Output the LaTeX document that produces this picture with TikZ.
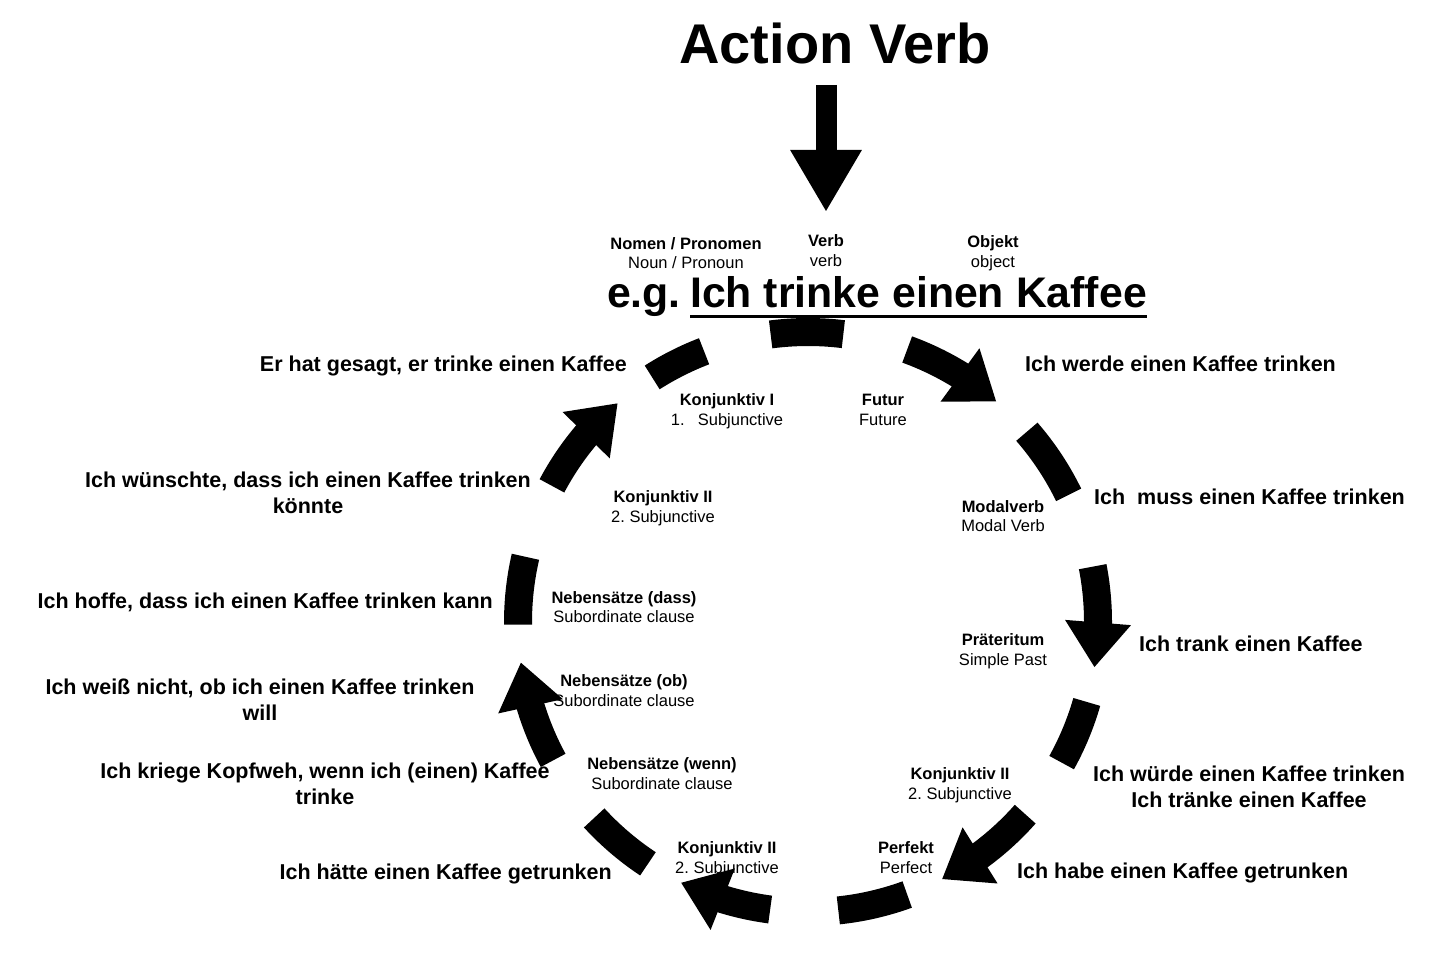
\documentclass[tikz,border=0pt]{standalone}
\usepackage{fontspec}
\setmainfont{Liberation Sans}
\usetikzlibrary{arrows.meta,bending}
\frenchspacing
\begin{document}
\begin{tikzpicture}[x=1pt,y=-1pt,
  seg/.style={line width=28pt},
  arr/.style={line width=28pt,-{Triangle[width=63pt,length=45pt]}},
  big/.style={font=\fontsize{21.5}{26}\selectfont\bfseries, inner sep=0pt},
  lblb/.style={font=\fontsize{16.5}{20}\selectfont\bfseries, inner sep=0pt, anchor=base},
  lblr/.style={font=\fontsize{16.5}{20}\selectfont, inner sep=0pt, anchor=base},
]
\fill[white] (0,0) rectangle (1456,963);
\useasboundingbox (0,0) rectangle (1456,963);
\coordinate (c) at (808,622);
\def\R{290}
% plain segments
\foreach \a/\b in {262.6/277,-41/-26,16/29,70/84,123.5/137.5,179.5/193,237.5/249}{
  \draw[seg] ([shift={(\a:\R)}]c) arc[start angle=\a,end angle=\b,radius=\R];
}
% arrow segments
\foreach \a/\b in {-70/-49.5,-11/9,41.5/62.5,97.5/116,151.5/172,208/229}{
  \draw[arr] ([shift={(\a:\R)}]c) arc[start angle=\a,end angle=\b,radius=\R];
}
% title and down arrow
\node[font=\fontsize{56}{60}\selectfont\bfseries, inner sep=0pt, anchor=base] (title) at (835,64) {Action Verb};
\coordinate (va) at (826,85);
\coordinate (vb) at (826,212);
\draw[line width=21pt,-{Triangle[width=67pt,length=62pt]}] (va) -- (vb);
% example sentence
\node[lblb] (nomb) at (686,249) {Nomen / Pronomen};
\node[lblr] (nomr) at (686,268) {Noun / Pronoun};
\node[lblb] (verbb) at (826,246) {Verb};
\node[lblr] (verbr) at (826,266) {verb};
\node[lblb] (objb) at (993,247) {Objekt};
\node[lblr] (objr) at (993,267) {object};
\node[font=\fontsize{42.8}{46}\selectfont\bfseries, inner sep=0pt, anchor=base east] (eg) at (681,307) {e.g.};
\node[font=\fontsize{42.8}{46}\selectfont\bfseries, inner sep=0pt, anchor=base west] (kaf) at (690,307) {Ich trinke einen Kaffee};
\draw[line width=3pt] ([yshift=-9pt]kaf.base west) -- ([yshift=-9pt]kaf.base east);
% right labels
\node[big, anchor=base west] (r1) at (1025,371) {Ich werde einen Kaffee trinken};
\node[big, anchor=base west] (r2) at (1094,504) {Ich~~muss einen Kaffee trinken};
\node[big, anchor=base west] (r3) at (1139,651) {Ich trank einen Kaffee};
\node[big, anchor=base] (r4a) at (1249,781) {Ich würde einen Kaffee trinken};
\node[big, anchor=base] (r4b) at (1249,807) {Ich tränke einen Kaffee};
\node[big, anchor=base west] (r5) at (1017,878) {Ich habe einen Kaffee getrunken};
% left labels
\node[big, anchor=base east] (l1) at (627,371) {Er hat gesagt, er trinke einen Kaffee};
\node[big, anchor=base] (l2a) at (308,487) {Ich wünschte, dass ich einen Kaffee trinken};
\node[big, anchor=base] (l2b) at (308,513) {könnte};
\node[big, anchor=base east] (l3) at (493,608) {Ich hoffe, dass ich einen Kaffee trinken kann};
\node[big, anchor=base] (l4a) at (260,694) {Ich weiß nicht, ob ich einen Kaffee trinken};
\node[big, anchor=base] (l4b) at (260,720) {will};
\node[big, anchor=base] (l5a) at (325,778) {Ich kriege Kopfweh, wenn ich (einen) Kaffee};
\node[big, anchor=base] (l5b) at (325,804) {trinke};
\node[big, anchor=base east] (l6) at (612,879) {Ich hätte einen Kaffee getrunken};
% inner labels
\node[lblb] (k1b) at (727,405) {Konjunktiv I};
\node[lblr] (k1r) at (727,425) {1.\hspace{0.8em}Subjunctive};
\node[lblb] (fub) at (883,405) {Futur};
\node[lblr] (fur) at (883,425) {Future};
\node[lblb] (k2b) at (663,502) {Konjunktiv II};
\node[lblr] (k2r) at (663,522) {2. Subjunctive};
\node[lblb] (mvb) at (1003,512) {Modalverb};
\node[lblr] (mvr) at (1003,531) {Modal Verb};
\node[lblb] (ndb) at (624,603) {Nebensätze (dass)};
\node[lblr] (ndr) at (624,622) {Subordinate clause};
\node[lblb] (prb) at (1003,645) {Präteritum};
\node[lblr] (prr) at (1003,665) {Simple Past};
\node[lblb] (nob) at (624,686) {Nebensätze (ob)};
\node[lblr] (nor) at (624,706) {Subordinate clause};
\node[lblb] (nwb) at (662,769) {Nebensätze (wenn)};
\node[lblr] (nwr) at (662,789) {Subordinate clause};
\node[lblb] (k3b) at (960,779) {Konjunktiv II};
\node[lblr] (k3r) at (960,799) {2. Subjunctive};
\node[lblb] (pfb) at (906,853) {Perfekt};
\node[lblr] (pfr) at (906,873) {Perfect};
\node[lblb] (k4b) at (727,853) {Konjunktiv II};
\node[lblr] (k4r) at (727,873) {2. Subjunctive};
\end{tikzpicture}
\end{document}
